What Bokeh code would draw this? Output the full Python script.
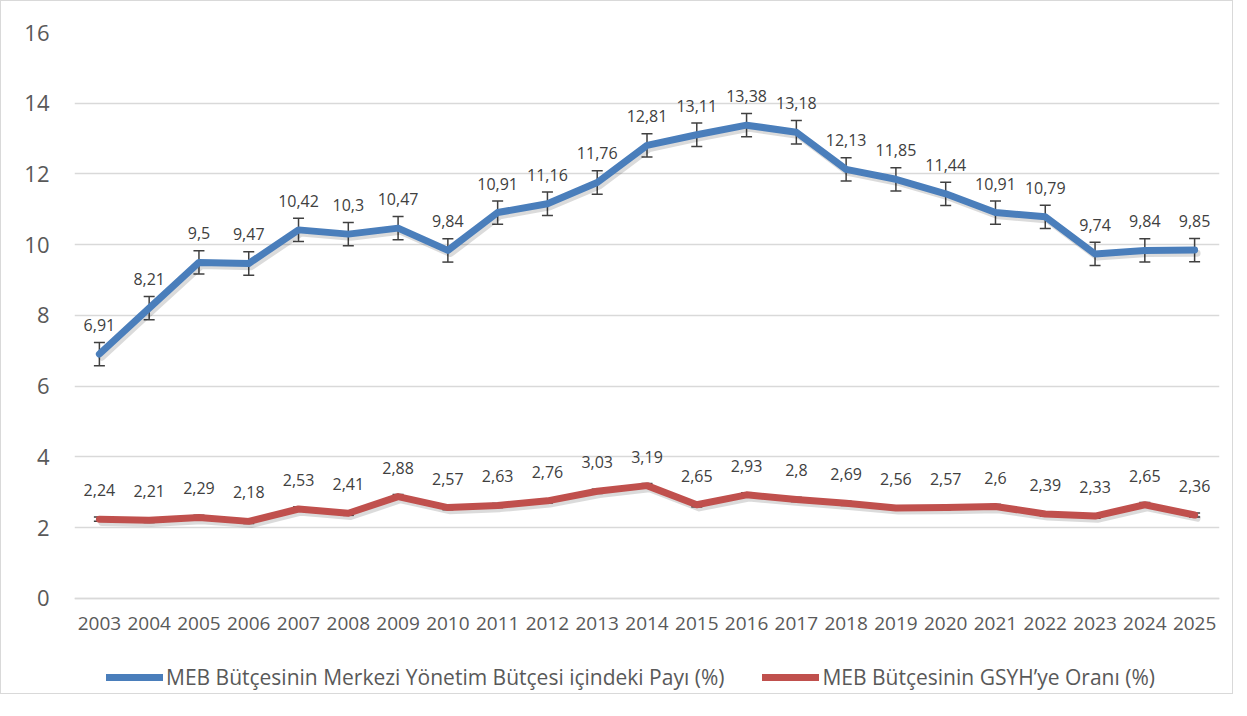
from bokeh.plotting import figure
from bokeh.models import ColumnDataSource, Whisker, TeeHead, Legend, LegendItem, FixedTicker
from bokeh.transform import dodge
from bokeh.core.properties import value
from bokeh.embed import file_html
from bokeh.resources import INLINE

years = [str(y) for y in range(2003, 2026)]
share_central = [6.91, 8.21, 9.5, 9.47, 10.42, 10.3, 10.47, 9.84, 10.91, 11.16, 11.76, 12.81,
                 13.11, 13.38, 13.18, 12.13, 11.85, 11.44, 10.91, 10.79, 9.74, 9.84, 9.85]
share_gdp = [2.24, 2.21, 2.29, 2.18, 2.53, 2.41, 2.88, 2.57, 2.63, 2.76, 3.03, 3.19,
             2.65, 2.93, 2.8, 2.69, 2.56, 2.57, 2.6, 2.39, 2.33, 2.65, 2.36]
err_central = 0.33
err_gdp = 0.06
y_ticks = [0, 2, 4, 6, 8, 10, 12, 14, 16]
name_central = "MEB Bütçesinin Merkezi Yönetim Bütçesi içindeki Payı (%)"
name_gdp = "MEB Bütçesinin GSYH\u2019ye Oranı (%)"

BLUE = "#4A7EBB"
RED = "#C0504D"
FONT = "Open Sans"


def fmt(v):
    return f"{v:g}".replace(".", ",")


def make_source(vals, err):
    return ColumnDataSource(dict(
        x=years, y=vals,
        upper=[v + err for v in vals], lower=[v - err for v in vals],
        label=[fmt(v) for v in vals],
    ))


src_c = make_source(share_central, err_central)
src_g = make_source(share_gdp, err_gdp)

# the frame extends below 0 to leave room for the category labels and legend
p = figure(x_range=years, y_range=(-2.686, 16), frame_width=1145, frame_height=661,
           output_backend="svg", toolbar_location=None,
           min_border_left=73, min_border_right=13, min_border_top=31, min_border_bottom=0)
p.outline_line_color = None
p.styles = {"border": "1px solid #d9d9d9"}
p.background_fill_color = "white"

# axes
p.yaxis.ticker = FixedTicker(ticks=y_ticks)
p.yaxis.axis_line_color = None
p.yaxis.major_tick_line_color = None
p.yaxis.minor_tick_line_color = None
p.yaxis.major_label_standoff = 19
p.yaxis.major_label_text_font = FONT
p.yaxis.major_label_text_font_size = "22px"
p.yaxis.major_label_text_color = "#595959"

p.xaxis.fixed_location = 0
p.xaxis.axis_line_color = "#d9d9d9"
p.xaxis.axis_line_width = 1.5
p.xaxis.major_tick_line_color = None
p.xaxis.major_label_standoff = 13
p.xaxis.major_label_text_font = FONT
p.xaxis.major_label_text_font_size = "19px"
p.xaxis.major_label_text_color = "#595959"

p.xgrid.grid_line_color = None
p.ygrid.grid_line_color = "#d9d9d9"
p.ygrid.grid_line_width = 1.5

# error bars (under the lines)
for src in (src_c, src_g):
    w = Whisker(source=src, base="x", upper="upper", lower="lower", dimension="height",
                line_color="#404040", line_width=1.5, level="underlay",
                upper_head=TeeHead(size=11, line_color="#404040", line_width=1.5),
                lower_head=TeeHead(size=11, line_color="#404040", line_width=1.5))
    p.add_layout(w)

# shadows
for src in (src_c, src_g):
    p.line(x=dodge("x", 0.05, range=p.x_range), y=dodge("y", -0.09), source=src,
           line_color="black", line_alpha=0.14, line_width=7,
           line_join="round", line_cap="round")

r_c = p.line("x", "y", source=src_c, line_color=BLUE, line_width=7,
             line_join="round", line_cap="round")
r_g = p.line("x", "y", source=src_g, line_color=RED, line_width=7,
             line_join="round", line_cap="round")

for src in (src_c, src_g):
    p.text("x", "y", text="label", source=src, y_offset=-29,
           text_align="center", text_baseline="middle",
           text_font=value(FONT), text_font_size="16px", text_color="#404040")

legend = Legend(items=[LegendItem(label=name_central, renderers=[r_c]),
                       LegendItem(label=name_gdp, renderers=[r_g])],
                orientation="horizontal", location=(32, 2),
                label_text_font=FONT, label_text_font_size="21px",
                label_text_color="#595959", glyph_width=57, glyph_height=24,
                label_standoff=3, spacing=38, padding=0, margin=0,
                border_line_color=None, background_fill_alpha=0)
p.add_layout(legend)

open("out.html", "w").write(file_html(p, INLINE))
